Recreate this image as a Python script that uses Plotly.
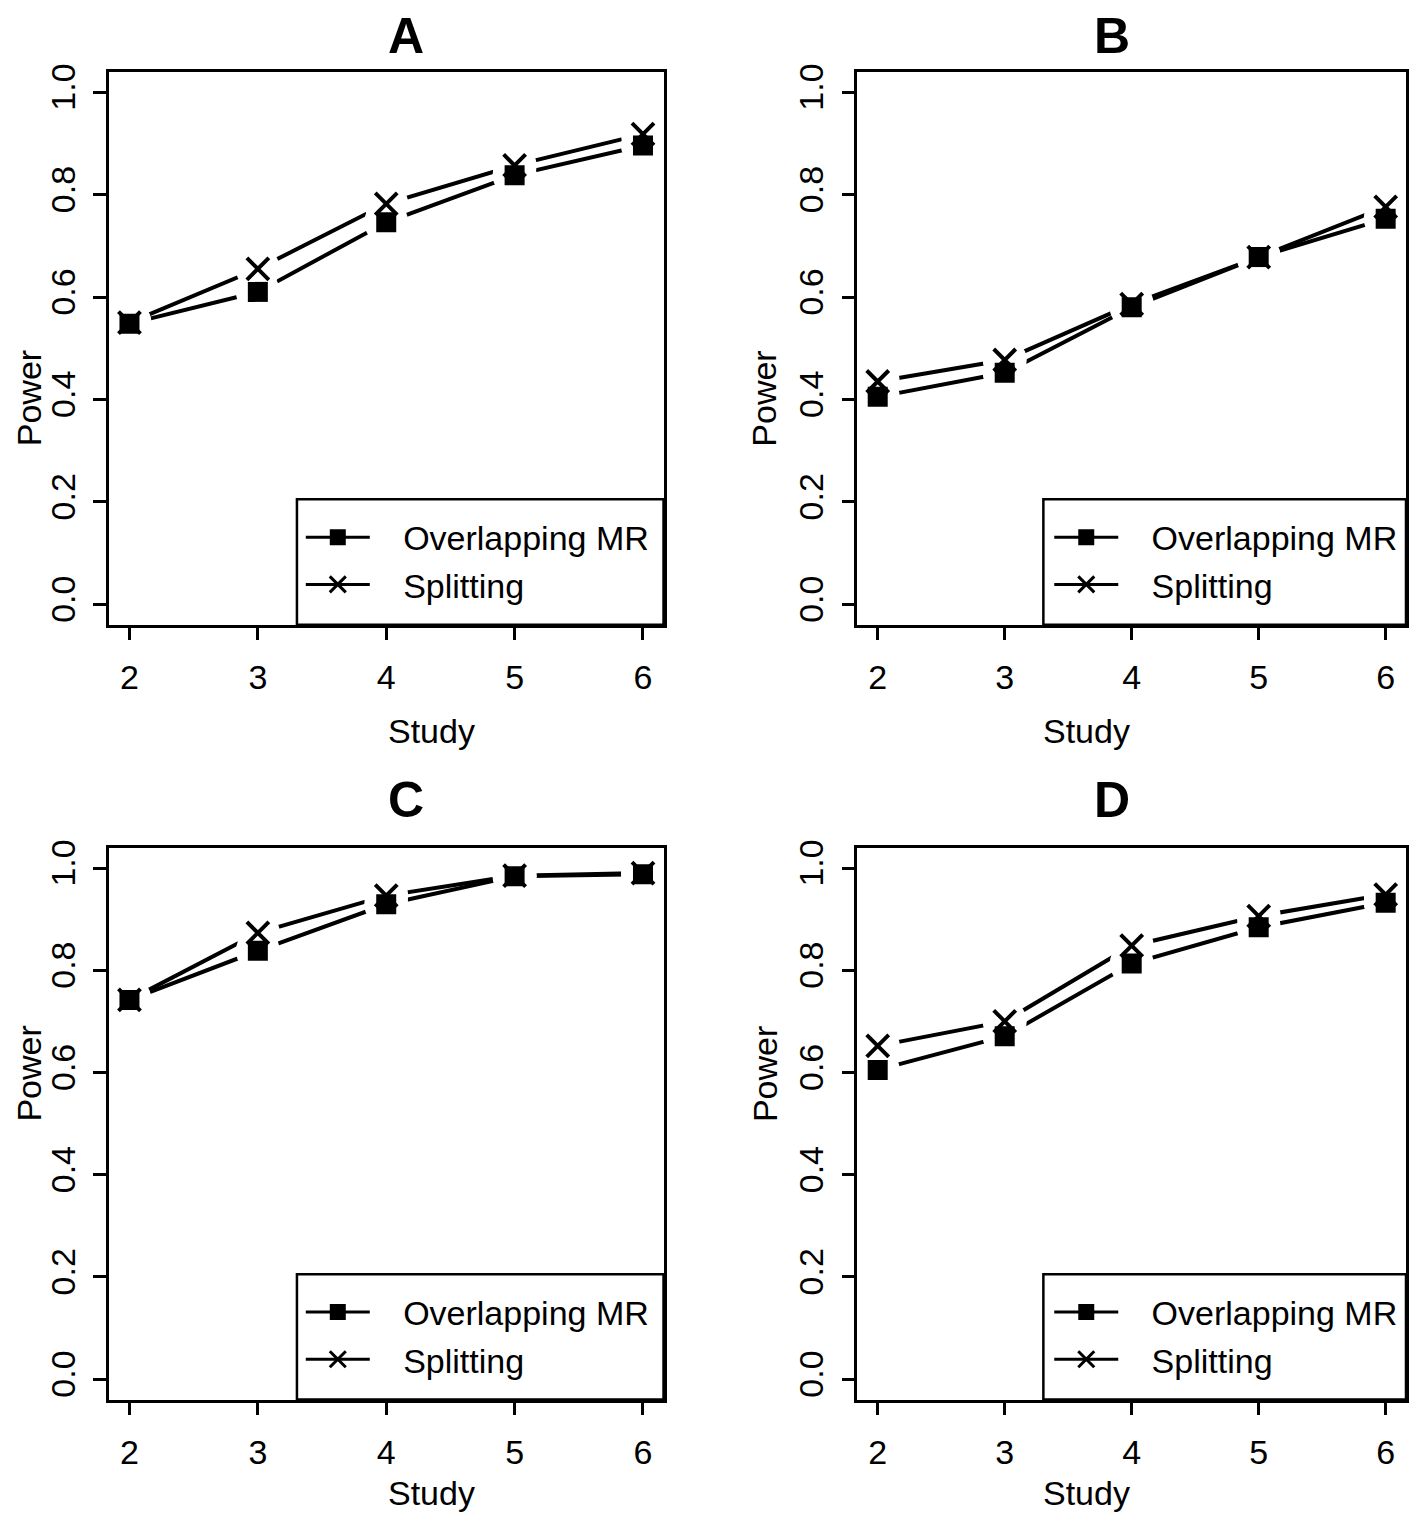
import plotly.graph_objects as go
from plotly.subplots import make_subplots

# Power of overlapping MR vs. sample splitting, four scenarios (A-D)
studies = [2, 3, 4, 5, 6]

overlap_A = [0.548, 0.610, 0.746, 0.838, 0.896]
split_A = [0.550, 0.655, 0.782, 0.857, 0.918]

overlap_B = [0.405, 0.452, 0.580, 0.678, 0.753]
split_B = [0.435, 0.477, 0.586, 0.678, 0.776]

overlap_C = [0.742, 0.838, 0.929, 0.984, 0.988]
split_C = [0.742, 0.873, 0.946, 0.985, 0.990]

overlap_D = [0.605, 0.671, 0.813, 0.884, 0.932]
split_D = [0.652, 0.700, 0.848, 0.906, 0.948]

panel_names = ["A", "B", "C", "D"]
series_names = ["Overlapping MR", "Splitting"]
y_ticks = [0.0, 0.2, 0.4, 0.6, 0.8, 1.0]

FONT = "Arial, Liberation Sans, sans-serif"
W, H = 1417, 1522
# the page body has an 8px margin, so the figure itself is a bit smaller
FW, FH = W - 16, H - 16


def px_x(p):
    return min(1.0, max(0.0, (p - 8) / FW))


def px_y(p):
    return min(1.0, max(0.0, 1 - (p - 8) / FH))


panels = [
    (overlap_A, split_A),
    (overlap_B, split_B),
    (overlap_C, split_C),
    (overlap_D, split_D),
]

# plot boxes (pixels in the reference; right panel squeezed a little to fit)
box_x = [(109, 664), (858, 1407)]
box_y = [(64, 620), (844, 1399)]

fig = make_subplots(rows=2, cols=2)

for i, (ov, sp) in enumerate(panels):
    row, col = i // 2 + 1, i % 2 + 1
    leg = "legend" if i == 0 else "legend%d" % (i + 1)
    bx0, bx1 = box_x[col - 1]
    by0, by1 = box_y[row - 1]
    xd = [px_x(bx0), px_x(bx1)]
    yd = [px_y(by1), px_y(by0)]
    suffix = "" if i == 0 else str(i + 1)

    # lines (R type="b": gaps around the points are cut out with white discs)
    for y in (ov, sp):
        fig.add_trace(go.Scatter(x=studies, y=y, mode="lines", line=dict(color="black", width=4),
                                 showlegend=False, hoverinfo="skip"), row=row, col=col)
    for y in (ov, sp):
        fig.add_trace(go.Scatter(x=studies, y=y, mode="markers",
                                 marker=dict(symbol="circle", size=44, color="white"),
                                 showlegend=False, hoverinfo="skip"), row=row, col=col)

    fig.add_trace(go.Scatter(x=studies, y=ov, mode="markers", name=series_names[0],
                             marker=dict(symbol="square", size=20, color="black"),
                             showlegend=False), row=row, col=col)
    fig.add_trace(go.Scatter(x=studies, y=sp, mode="markers", name=series_names[1],
                             marker=dict(symbol="x-thin-open", size=22, color="black",
                                         line=dict(color="black", width=4)),
                             showlegend=False), row=row, col=col)

    # legend entries only
    fig.add_trace(go.Scatter(x=[None], y=[None], mode="lines+markers",
                             name="\u00a0\u00a0\u00a0" + series_names[0],
                             line=dict(color="black", width=3),
                             marker=dict(symbol="square", size=16, color="black"),
                             legend=leg), row=row, col=col)
    fig.add_trace(go.Scatter(x=[None], y=[None], mode="lines+markers",
                             name="\u00a0\u00a0\u00a0" + series_names[1],
                             line=dict(color="black", width=3),
                             marker=dict(symbol="x-thin-open", size=16, color="black",
                                         line=dict(color="black", width=3)),
                             legend=leg), row=row, col=col)

    fig.update_layout({
        "xaxis" + suffix: dict(domain=xd, range=[1.84, 6.16], tickvals=studies,
                               showline=True, mirror=True, linecolor="black", linewidth=2.5,
                               ticks="outside", ticklen=13, tickwidth=2.5, tickcolor="black",
                               showgrid=False, zeroline=False, ticklabelstandoff=8,
                               tickfont=dict(family=FONT, size=34, color="black")),
        "yaxis" + suffix: dict(domain=yd, range=[-0.04, 1.04], tickvals=y_ticks, tickformat=".1f",
                               tickangle=-90,
                               showline=True, mirror=True, linecolor="black", linewidth=2.5,
                               ticks="outside", ticklen=13, tickwidth=2.5, tickcolor="black",
                               showgrid=False, zeroline=False, ticklabelstandoff=5,
                               tickfont=dict(family=FONT, size=34, color="black")),
        leg: dict(x=px_x(bx0 + 192), xanchor="left", y=px_y(by1 - 64), yanchor="middle",
                  bgcolor="rgba(0,0,0,0)", borderwidth=0, itemwidth=64, tracegroupgap=0,
                  font=dict(family=FONT, size=34, color="black")),
    })

    # legend frame (bottomright, like R legend())
    fig.add_shape(type="rect", xref="x%s domain" % suffix, yref="y%s domain" % suffix,
                  x0=0.339, x1=1, y0=0, y1=0.227, line=dict(color="black", width=2.5),
                  fillcolor="white", layer="below")

    xc = (xd[0] + xd[1]) / 2
    yc = (yd[0] + yd[1]) / 2

    # panel letter; top row sits against the top edge
    if row == 1:
        fig.add_annotation(text="<b>%s</b>" % panel_names[i], x=xc, y=1 + 10 / FH,
                           yanchor="top", xref="paper", yref="paper", showarrow=False,
                           font=dict(family=FONT, size=50, color="black"))
    else:
        fig.add_annotation(text="<b>%s</b>" % panel_names[i], x=xc, y=px_y(by0 - 48),
                           yanchor="middle", xref="paper", yref="paper", showarrow=False,
                           font=dict(family=FONT, size=50, color="black"))

    fig.add_annotation(text="Power", x=max(0.0, (bx0 - 122) / FW), y=yc,
                       xref="paper", yref="paper",
                       showarrow=False, textangle=-90, xanchor="left",
                       font=dict(family=FONT, size=34, color="black"))

    if row == 1:
        fig.add_annotation(text="Study", x=xc, y=px_y(by1 + 107), xref="paper", yref="paper",
                           showarrow=False, yanchor="middle",
                           font=dict(family=FONT, size=34, color="black"))
    else:
        fig.add_annotation(text="Study", x=xc, y=0, xref="paper", yref="paper",
                           showarrow=False, yanchor="bottom",
                           font=dict(family=FONT, size=34, color="black"))

fig.update_layout(width=FW, height=FH, margin=dict(l=0, r=0, t=0, b=0),
                  plot_bgcolor="white", paper_bgcolor="white",
                  font=dict(family=FONT, color="black"))

fig.write_html("out.html")
